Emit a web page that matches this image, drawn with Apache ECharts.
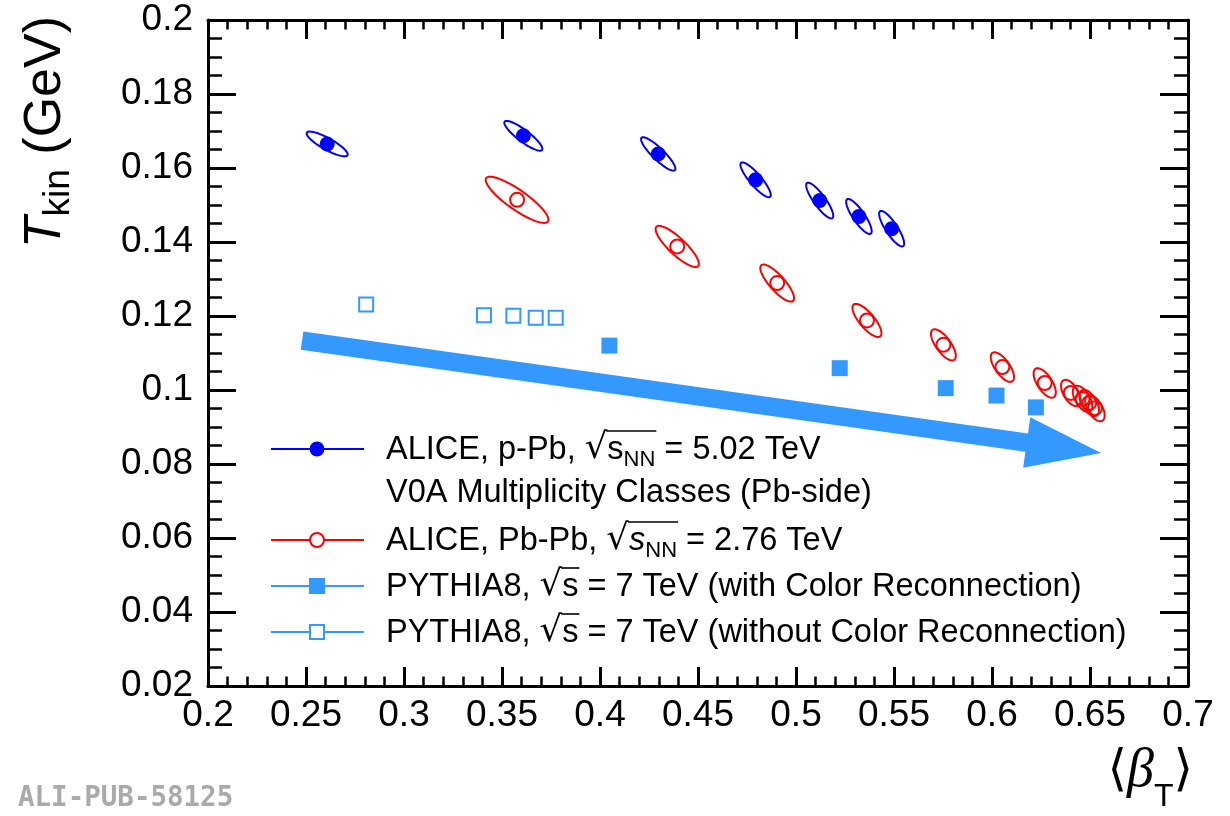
<!DOCTYPE html>
<html>
<head>
<meta charset="utf-8">
<title>Tkin vs beta_T</title>
<script src="https://cdn.jsdelivr.net/npm/echarts@6/dist/echarts.min.js"></script>
<style>
  html, body { margin: 0; padding: 0; background: #ffffff; }
  #chart { width: 1230px; height: 816px; }
</style>
</head>
<body>
<div id="chart"></div>
<script>
// ---- axis ticks ----
const xTicks = [0.2, 0.25, 0.3, 0.35, 0.4, 0.45, 0.5, 0.55, 0.6, 0.65, 0.7];
const yTicks = [0.02, 0.04, 0.06, 0.08, 0.1, 0.12, 0.14, 0.16, 0.18, 0.2];

// ---- ALICE p-Pb 5.02 TeV, V0A multiplicity classes ----
const pPbBeta = [0.2608, 0.3609, 0.4297, 0.4794, 0.5121, 0.5321, 0.5488];
const pPbTkin = [0.1665, 0.1687, 0.1638, 0.1568, 0.1512, 0.1469, 0.1436];
// contour: semi-major axis [dBeta, dTkin], minor/major ratio
const pPbContour = [
  [0.01037, -0.00305, 0.25], [0.00954, -0.00383, 0.25], [0.00851, -0.00438, 0.25],
  [0.0074, -0.0046, 0.26], [0.00647, -0.00473, 0.27], [0.00603, -0.00464, 0.28],
  [0.00587, -0.00473, 0.28]
];

// ---- ALICE Pb-Pb 2.76 TeV ----
const pbPbBeta = [0.3577, 0.4394, 0.4904, 0.5362, 0.5752, 0.6053, 0.6269, 0.6402, 0.6462, 0.6496, 0.6525];
const pbPbTkin = [0.1514, 0.1388, 0.1289, 0.1188, 0.1122, 0.1062, 0.1019, 0.0992, 0.0976, 0.0965, 0.0951];
const pbPbContour = [
  [0.01575, -0.00586, 0.26], [0.01064, -0.00532, 0.29], [0.00809, -0.00482, 0.32],
  [0.0068, -0.00428, 0.36], [0.00553, -0.00405, 0.4], [0.0051, -0.00383, 0.42],
  [0.0047, -0.00383, 0.44], [0.0038, -0.0034, 0.5], [0.0038, -0.0034, 0.5],
  [0.0038, -0.0034, 0.5], [0.0038, -0.0034, 0.5]
];

// ---- PYTHIA8 7 TeV with colour reconnection ----
const crBeta = [0.4048, 0.5223, 0.5764, 0.6023, 0.6224];
const crTkin = [0.1120, 0.1059, 0.1005, 0.0985, 0.0953];

// ---- PYTHIA8 7 TeV without colour reconnection ----
const noCrBeta = [0.2807, 0.3408, 0.3558, 0.3672, 0.3774];
const noCrTkin = [0.1231, 0.1202, 0.1201, 0.1195, 0.1195];

// ---- trend arrow: [beta0, T0, beta1, T1] ----
const trendArrow = [0.2480, 0.11335, 0.6556, 0.08297];

const BLUE = '#0000ff';
const RED = '#ff0000';
const SKY = '#3399ff';
const SANS = '"Liberation Sans", Arial, Helvetica, sans-serif';

const pairs = (xs, ys) => xs.map((x, i) => [x, ys[i]]);
const withContour = (xs, ys, cs) => xs.map((x, i) => [x, ys[i], cs[i][0], cs[i][1], cs[i][2]]);

function ellipseRenderer(color) {
  return function (params, api) {
    const x = api.value(0), y = api.value(1);
    const c = api.coord([x, y]);
    const e = api.coord([x + api.value(2), y + api.value(3)]);
    const vx = e[0] - c[0], vy = e[1] - c[1];
    const a = Math.hypot(vx, vy);
    const b = a * api.value(4);
    const px = -vy / a, py = vx / a;
    const pts = [];
    for (let k = 0; k < 72; k++) {
      const t = (k / 72) * Math.PI * 2;
      pts.push([c[0] + Math.cos(t) * vx + Math.sin(t) * b * px,
                c[1] + Math.cos(t) * vy + Math.sin(t) * b * py]);
    }
    return { type: 'polygon', shape: { points: pts },
             style: { fill: 'none', stroke: color, lineWidth: 2 } };
  };
}

function arrowRenderer(params, api) {
  const s = api.coord([api.value(0), api.value(1)]);
  const t = api.coord([api.value(2), api.value(3)]);
  const dx = t[0] - s[0], dy = t[1] - s[1];
  const L = Math.hypot(dx, dy);
  const ux = dx / L, uy = dy / L, nx = -uy, ny = ux;
  const hw = 9.2, hl = 75, hh = 25.5;
  const bx = t[0] - ux * hl, by = t[1] - uy * hl;
  return {
    type: 'polygon',
    shape: { points: [
      [s[0] + nx * hw, s[1] + ny * hw],
      [bx + nx * hw, by + ny * hw],
      [bx + nx * hh, by + ny * hh],
      [t[0], t[1]],
      [bx - nx * hh, by - ny * hh],
      [bx - nx * hw, by - ny * hw],
      [s[0] - nx * hw, s[1] - ny * hw]
    ] },
    style: { fill: SKY }
  };
}

// ---- text composition helpers ----
const measureCtx = document.createElement('canvas').getContext('2d');
function textWidth(str, font) { measureCtx.font = font; return measureCtx.measureText(str).width; }

// parts: {t, font, dy, fill}; returns text elements laid out left to right
function composeRun(parts, x0, yMid) {
  const out = [];
  let x = x0;
  const marks = [];
  parts.forEach(p => {
    marks.push(x);
    out.push({ type: 'text', x: x, y: yMid + (p.dy || 0),
      style: { text: p.t, font: p.font, fill: p.fill || '#000', align: 'left', verticalAlign: 'middle' } });
    x += textWidth(p.t, p.font);
  });
  marks.push(x);
  return { els: out, marks: marks };
}

const F = 32.5;
const fMain = F + 'px ' + SANS;
const fIt = 'italic ' + F + 'px ' + SANS;
const fSub = Math.round(F * 0.68) + 'px ' + SANS;
const fRad = (F + 3) + 'px "DejaVu Sans", ' + SANS;

function legendRow(y, color, symbol, filled, parts, radIdx, radEnd) {
  const els = [];
  els.push({ type: 'line', shape: { x1: 271, y1: y, x2: 364, y2: y },
             style: { stroke: color, lineWidth: 2 } });
  if (symbol === 'circle') {
    els.push({ type: 'circle', shape: { cx: 317, cy: y, r: filled ? 7.5 : 7 },
      style: filled ? { fill: color } : { fill: '#fff', stroke: color, lineWidth: 2 } });
  } else {
    const h = filled ? 8 : 7;
    els.push({ type: 'rect', shape: { x: 317 - h, y: y - h, width: 2 * h, height: 2 * h },
      style: filled ? { fill: color } : { fill: '#fff', stroke: color, lineWidth: 2 } });
  }
  const run = composeRun(parts, 386, y + 1);
  els.push(...run.els);
  // vinculum over the radicand
  const xa = run.marks[radIdx + 1] - 1;
  const xb = run.marks[radEnd + 1] + 1;
  els.push({ type: 'line', shape: { x1: xa, y1: y - 18, x2: xb, y2: y - 18 },
             style: { stroke: '#000', lineWidth: 1.6 } });
  return els;
}

const legendEls = [].concat(
  legendRow(449, BLUE, 'circle', true, [
    { t: 'ALICE, p-Pb, ', font: fMain },
    { t: '\u221A', font: fRad, dy: -1 },
    { t: 's', font: fMain },
    { t: 'NN', font: fSub, dy: 10 },
    { t: ' = 5.02 TeV', font: fMain }
  ], 1, 3),
  composeRun([{ t: 'V0A Multiplicity Classes (Pb-side)', font: fMain }], 386, 493).els,
  legendRow(540, RED, 'circle', false, [
    { t: 'ALICE, Pb-Pb, ', font: fMain },
    { t: '\u221A', font: fRad, dy: -1 },
    { t: 's', font: fIt },
    { t: 'NN', font: fSub, dy: 10 },
    { t: ' = 2.76 TeV', font: fMain }
  ], 1, 3),
  legendRow(586, SKY, 'rect', true, [
    { t: 'PYTHIA8, ', font: fMain },
    { t: '\u221A', font: fRad, dy: -1 },
    { t: 's', font: fMain },
    { t: ' = 7 TeV (with Color Reconnection)', font: fMain }
  ], 1, 2),
  legendRow(632, SKY, 'rect', false, [
    { t: 'PYTHIA8, ', font: fMain },
    { t: '\u221A', font: fRad, dy: -1 },
    { t: 's', font: fMain },
    { t: ' = 7 TeV (without Color Reconnection)', font: fMain }
  ], 1, 2)
);

// y-axis title, rotated, anchored at the top of the frame
const TF = 52;
const yTitle = composeRun([
  { t: 'T', font: 'italic ' + TF + 'px ' + SANS },
  { t: 'kin', font: Math.round(TF * 0.72) + 'px ' + SANS, dy: 13 },
  { t: ' (GeV)', font: TF + 'px ' + SANS }
], 0, 0);
const yTitleLen = yTitle.marks[yTitle.marks.length - 1];

// x-axis title
const xTitle = composeRun([
  { t: '\u27E8', font: '50px "DejaVu Sans", ' + SANS },
  { t: '\u03B2', font: 'italic 54px "Liberation Serif", serif' },
  { t: 'T', font: '32px ' + SANS, dy: 25 },
  { t: '\u27E9', font: '50px "DejaVu Sans", ' + SANS }
], 0, 0);
const xTitleLen = xTitle.marks[xTitle.marks.length - 1];

const axisCommon = {
  type: 'value',
  axisLine: { show: true, onZero: false, lineStyle: { color: '#000', width: 3 } },
  splitLine: { show: false },
  minorSplitLine: { show: false }
};
const fmt = v => String(+v.toFixed(3));

const chart = echarts.init(document.getElementById('chart'), null, { renderer: 'canvas' });
chart.setOption({
  animation: false,
  backgroundColor: '#ffffff',
  grid: { left: 208, right: 42, top: 20, bottom: 130, containLabel: false, outerBoundsMode: 'none' },
  xAxis: [
    Object.assign({}, axisCommon, {
      position: 'bottom', min: xTicks[0], max: xTicks[xTicks.length - 1], interval: 0.05,
      axisTick: { show: true, inside: true, length: 19, lineStyle: { color: '#000', width: 3 } },
      minorTick: { show: true, splitNumber: 5, length: 9.5, lineStyle: { color: '#000', width: 2.5 } },
      axisLabel: { show: true, color: '#000', fontSize: 37, fontFamily: SANS, margin: 11, formatter: fmt }
    }),
    Object.assign({}, axisCommon, {
      position: 'top', min: xTicks[0], max: xTicks[xTicks.length - 1], interval: 0.05,
      axisTick: { show: true, inside: true, length: 19, lineStyle: { color: '#000', width: 3 } },
      minorTick: { show: true, splitNumber: 5, length: 9.5, lineStyle: { color: '#000', width: 2.5 } },
      axisLabel: { show: false }
    })
  ],
  yAxis: [
    Object.assign({}, axisCommon, {
      position: 'left', min: yTicks[0], max: yTicks[yTicks.length - 1], interval: 0.02,
      axisTick: { show: true, inside: true, length: 28, lineStyle: { color: '#000', width: 3 } },
      minorTick: { show: true, splitNumber: 4, length: 14, lineStyle: { color: '#000', width: 2.5 } },
      axisLabel: { show: true, color: '#000', fontSize: 37, fontFamily: SANS, margin: 15, formatter: fmt }
    }),
    Object.assign({}, axisCommon, {
      position: 'right', min: yTicks[0], max: yTicks[yTicks.length - 1], interval: 0.02,
      axisTick: { show: true, inside: true, length: 28, lineStyle: { color: '#000', width: 3 } },
      minorTick: { show: true, splitNumber: 4, length: 14, lineStyle: { color: '#000', width: 2.5 } },
      axisLabel: { show: false }
    })
  ],
  series: [
    { name: 'trend', type: 'custom', renderItem: arrowRenderer, silent: true,
      encode: { x: [0, 2], y: [1, 3] }, data: [trendArrow], z: 1 },
    { name: 'p-Pb contour', type: 'custom', renderItem: ellipseRenderer(BLUE), silent: true,
      encode: { x: 0, y: 1 }, data: withContour(pPbBeta, pPbTkin, pPbContour), z: 2 },
    { name: 'Pb-Pb contour', type: 'custom', renderItem: ellipseRenderer(RED), silent: true,
      encode: { x: 0, y: 1 }, data: withContour(pbPbBeta, pbPbTkin, pbPbContour), z: 2 },
    { name: 'ALICE, p-Pb, 5.02 TeV', type: 'scatter', symbol: 'circle', symbolSize: 15,
      itemStyle: { color: BLUE, opacity: 1 }, data: pairs(pPbBeta, pPbTkin), z: 3 },
    { name: 'ALICE, Pb-Pb, 2.76 TeV', type: 'scatter', symbol: 'circle', symbolSize: 14,
      itemStyle: { color: 'rgba(255,255,255,0)', borderColor: RED, borderWidth: 2, opacity: 1 },
      data: pairs(pbPbBeta, pbPbTkin), z: 3 },
    { name: 'PYTHIA8 with CR', type: 'scatter', symbol: 'rect', symbolSize: 16,
      itemStyle: { color: SKY, opacity: 1 }, data: pairs(crBeta, crTkin), z: 3 },
    { name: 'PYTHIA8 without CR', type: 'scatter', symbol: 'rect', symbolSize: 14,
      itemStyle: { color: 'rgba(255,255,255,0)', borderColor: SKY, borderWidth: 2, opacity: 1 },
      data: pairs(noCrBeta, noCrTkin), z: 3 }
  ],
  graphic: [
    { type: 'group', x: 46, y: 16 + yTitleLen, rotation: Math.PI / 2, children: yTitle.els },
    { type: 'group', x: 1193 - xTitleLen, y: 772, children: xTitle.els },
    { type: 'text', x: 18, y: 799,
      style: { text: 'ALI-PUB-58125', font: 'bold 27.5px "DejaVu Sans Mono", monospace',
               fill: '#aaaaaa', align: 'left', verticalAlign: 'middle' } },
    { type: 'group', children: legendEls }
  ]
});
</script>
</body>
</html>
